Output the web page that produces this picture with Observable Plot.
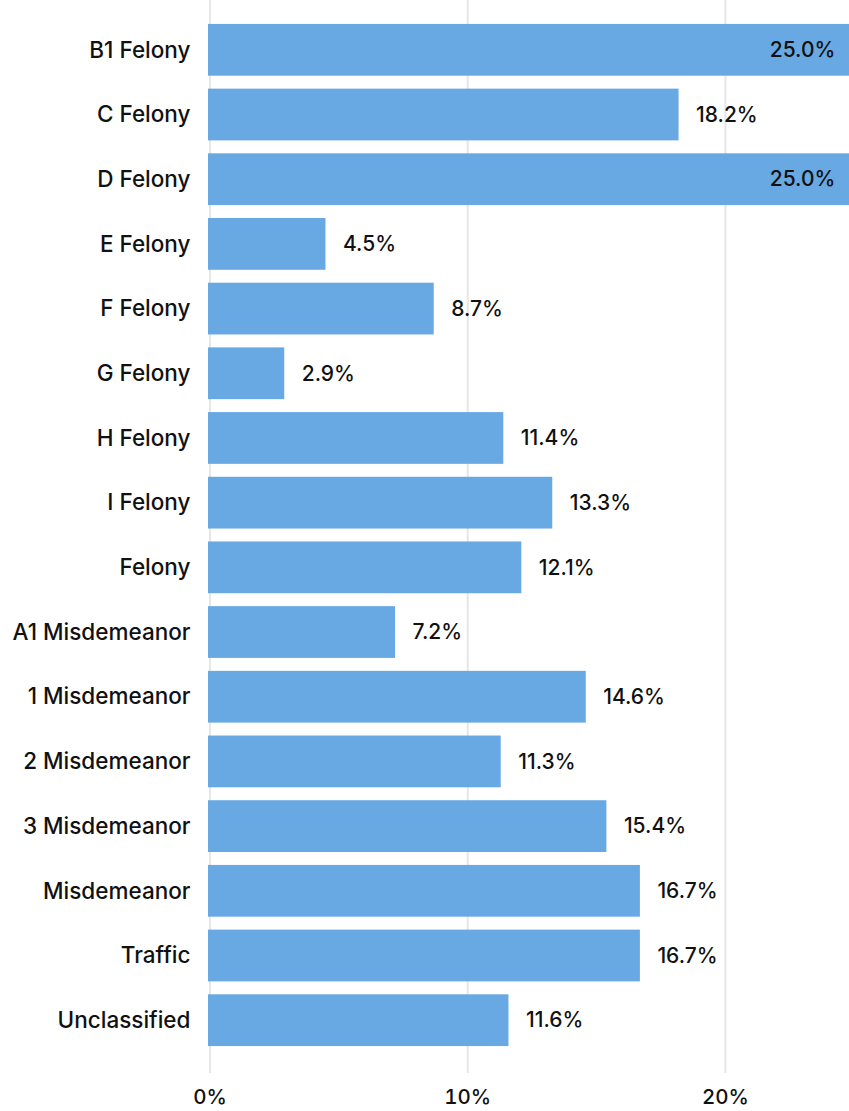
<!DOCTYPE html>
<html><head><meta charset="utf-8">
<script src="https://cdn.jsdelivr.net/npm/d3@7"></script>
<script src="https://cdn.jsdelivr.net/npm/@observablehq/plot@0.6"></script>
<style>html,body{margin:0;padding:0;background:#fff;overflow:hidden}</style>
</head><body><div id="chart"></div>
<script>
const categories = ["B1 Felony","C Felony","D Felony","E Felony","F Felony","G Felony","H Felony","I Felony","Felony","A1 Misdemeanor","1 Misdemeanor","2 Misdemeanor","3 Misdemeanor","Misdemeanor","Traffic","Unclassified"];
const shares = [0.250,0.182,0.250,0.045,0.087,0.029,0.114,0.133,0.121,0.072,0.146,0.113,0.154,0.167,0.167,0.116];
const xTicks = [0, 0.1, 0.2];
const xMax = 0.25;

const data = categories.map((c, i) => ({category: c, share: shares[i]}));
const fmt = d3.format(".1%");
const fs = 21;
const fsY = 22.5;

const plot = Plot.plot({
  width: 849, height: 1111,
  marginLeft: 209, marginRight: 0, marginTop: 0, marginBottom: 38,
  style: {fontFamily: "Inter, Roboto, sans-serif", fontSize: fs + "px", fontWeight: 500, color: "#111", background: "#fff", overflow: "hidden"},
  x: {domain: [0, xMax], range: [209.5, 853.8], axis: null},
  y: {domain: categories, range: [0, 1070], paddingInner: 0.2, paddingOuter: 0.37, round: false, axis: null},
  marks: [
    Plot.ruleX(xTicks, {stroke: "#e6e6e6", strokeWidth: 2}),
    Plot.barX(data, {x: "share", y: "category", fill: "#68a8e3", insetLeft: -1.5}),
    Plot.text(data.filter(d => d.share < xMax), {x: "share", y: "category", text: d => fmt(d.share), textAnchor: "start", dx: 17, fill: "#111", fontSize: fs}),
    Plot.text(data.filter(d => d.share >= xMax), {x: "share", y: "category", text: d => fmt(d.share), textAnchor: "end", dx: -19, fill: "#111", fontSize: fs}),
    Plot.axisY({tickSize: 0, tickPadding: 19, fontSize: fsY, label: null}),
    Plot.axisX(xTicks, {tickSize: 0, tickPadding: 16, tickFormat: d3.format(".0%"), fontSize: 20.5, label: null})
  ]
});
document.getElementById("chart").appendChild(plot);
</script>
</body></html>
